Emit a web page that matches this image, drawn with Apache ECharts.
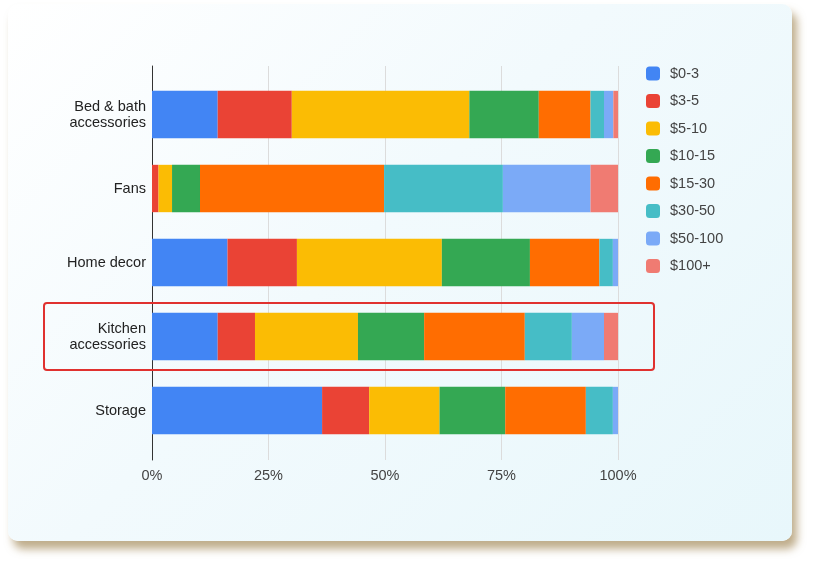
<!DOCTYPE html>
<html>
<head>
<meta charset="utf-8">
<script src="https://cdn.jsdelivr.net/npm/echarts@6/dist/echarts.min.js"></script>
<style>
  html, body { margin: 0; padding: 0; background: #fff; }
  #card {
    position: absolute; left: 8px; top: 4px; width: 784px; height: 537px;
    border-radius: 10px;
    background: linear-gradient(135deg, #ffffff 0%, #f2fafd 45%, #e8f7fb 100%);
    box-shadow: 5px 8px 9px rgba(170, 145, 100, 0.75);
  }
  #chart { position: absolute; left: 0; top: 0; width: 815px; height: 566px; }
</style>
</head>
<body>
<div id="card"></div>
<div id="chart"></div>
<script>
const categories = ["Bed & bath\naccessories", "Fans", "Home decor", "Kitchen\naccessories", "Storage"];
const seriesNames = ["$0-3", "$3-5", "$5-10", "$10-15", "$15-30", "$30-50", "$50-100", "$100+"];
const colors = ["#4285f4", "#ea4335", "#fbbc04", "#34a853", "#ff6d01", "#46bdc6", "#7baaf7", "#f07b72"];

// share (%) of each price band, per category
const p0_3    = [14.1,  0.0, 16.2, 14.1, 36.5];
const p3_5    = [15.9,  1.4, 14.9,  8.0, 10.1];
const p5_10   = [38.1,  2.9, 31.1, 22.1, 15.1];
const p10_15  = [14.9,  6.0, 18.9, 14.2, 14.1];
const p15_30  = [11.1, 39.5, 14.9, 21.6, 17.3];
const p30_50  = [ 2.9, 25.5,  2.9, 10.1,  5.8];
const p50_100 = [ 2.0, 18.8,  1.1,  6.9,  1.1];
const p100    = [ 1.0,  5.9,  0.0,  3.0,  0.0];

const xTicks = [0, 25, 50, 75, 100];
const highlightIndex = 3; // Kitchen accessories

const allValues = [p0_3, p3_5, p5_10, p10_15, p15_30, p30_50, p50_100, p100];

const chart = echarts.init(document.getElementById("chart"), null, { renderer: "canvas" });

const FONT = "'Liberation Sans', Arial, sans-serif";

chart.setOption({
  animation: false,
  backgroundColor: "transparent",
  legend: {
    orient: "vertical",
    left: 641,
    top: 61,
    itemWidth: 14,
    itemHeight: 14,
    itemGap: 12.5,
    icon: "roundRect",
    data: seriesNames,
    textStyle: { fontFamily: FONT, fontSize: 14.5, color: "#444", padding: [0, 0, 0, 5] }
  },
  grid: [
    // axis frame (the axis line + gridlines run a bit past the bars)
    { left: 152, width: 466, top: 66, height: 394 },
    // bars
    { left: 152, width: 466, top: 77.5, height: 370 }
  ],
  xAxis: [
    {
      gridIndex: 0, type: "value", min: 0, max: 100, interval: 25,
      axisLine: { show: false }, axisTick: { show: false },
      axisLabel: {
        fontFamily: FONT, fontSize: 14.5, color: "#444", margin: 8,
        formatter: v => xTicks.includes(v) ? v + "%" : ""
      },
      splitLine: { lineStyle: { color: "#dcdcdc", width: 1 } }
    },
    {
      gridIndex: 1, type: "value", min: 0, max: 100, show: false
    }
  ],
  yAxis: [
    {
      gridIndex: 0, type: "value", min: 0, max: 1,
      axisLine: { show: true, lineStyle: { color: "#333", width: 1 } },
      axisTick: { show: false }, axisLabel: { show: false }, splitLine: { show: false }
    },
    {
      gridIndex: 1, type: "category", inverse: true, data: categories,
      axisLine: { show: false }, axisTick: { show: false },
      axisLabel: { fontFamily: FONT, fontSize: 14.5, color: "#222", margin: 6, lineHeight: 16, align: "right" }
    }
  ],
  series: seriesNames.map((name, i) => ({
    name: name,
    type: "bar",
    stack: "total",
    xAxisIndex: 1,
    yAxisIndex: 1,
    barCategoryGap: "36%",
    itemStyle: { color: colors[i] },
    emphasis: { disabled: true },
    data: allValues[i]
  }))
});

// red highlight box around the Kitchen row
const yc = chart.convertToPixel({ yAxisIndex: 1 }, highlightIndex);
chart.setOption({
  graphic: [{
    type: "rect",
    shape: { x: 44, y: yc - 33.5, width: 610, height: 67, r: 3 },
    style: { fill: "none", stroke: "#e0312f", lineWidth: 2 },
    z: 100
  }]
});
</script>
</body>
</html>
